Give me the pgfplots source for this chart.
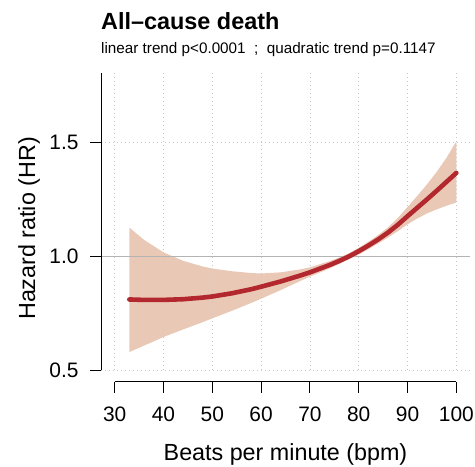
\documentclass[border=0pt]{standalone}
\usepackage{fontspec}
\setmainfont{Liberation Sans}
\usepackage{pgfplots}
\pgfplotsset{compat=1.18}
\usepgfplotslibrary{fillbetween}

\definecolor{bandcol}{HTML}{E2B69C}
\definecolor{fitcol}{HTML}{B3282E}
\definecolor{gridcol}{HTML}{C8C8C8}
\definecolor{refcol}{HTML}{B4B4B4}

% fitted hazard ratio with its confidence band
\pgfplotstableread{
bpm   hr     lo     hi
33    0.810  0.579  1.126
36    0.808  0.607  1.072
40    0.808  0.645  1.017
44    0.811  0.678  0.980
48    0.818  0.710  0.955
50    0.823  0.727  0.946
54    0.837  0.760  0.934
58    0.855  0.795  0.926
60    0.866  0.813  0.924
64    0.889  0.851  0.929
68    0.915  0.891  0.942
70    0.929  0.910  0.951
74    0.961  0.946  0.978
76    0.979  0.966  0.994
78    0.999  0.987  1.013
80    1.022  1.007  1.037
82    1.047  1.031  1.064
84    1.074  1.056  1.093
86    1.104  1.082  1.127
88    1.138  1.110  1.168
90    1.176  1.140  1.216
92    1.213  1.166  1.265
94    1.250  1.188  1.316
96    1.288  1.206  1.371
98    1.327  1.222  1.433
100   1.366  1.236  1.505
}\hrdata

\begin{document}
\begin{tikzpicture}
\begin{axis}[
  at={(101bp,-381.7bp)}, anchor=south west,
  scale only axis, width=369bp, height=308.7bp,
  xmin=27.2, xmax=102.8, ymin=0.4486, ymax=1.805,
  clip=false,
  axis line style={draw=none},
  xtick={30,40,...,100}, ytick={0.5,1.0,1.5},
  xtick pos=bottom, ytick pos=left,
  tick align=outside, major tick length=11bp,
  tick style={black, line width=1bp},
  tick label style={font=\fontsize{21}{25}\selectfont},
  xticklabel style={yshift=-11bp},
  yticklabel style={xshift=-8bp, /pgf/number format/.cd, fixed, fixed zerofill, precision=1},
  /pgf/number format/assume math mode=true,
]
  % dotted grid
  \pgfplotsinvokeforeach{30,40,...,100}{
    \draw[gridcol, line width=0.8bp, dash pattern=on 0.8bp off 3.2bp]
      (axis cs:#1,0.5) -- (axis cs:#1,1.805);
  }
  \pgfplotsinvokeforeach{0.5,1.5}{
    \draw[gridcol, line width=0.8bp, dash pattern=on 0.8bp off 3.2bp]
      (axis cs:27.2,#1) -- (axis cs:102.8,#1);
  }

  % confidence band
  \addplot[name path=upper, draw=none] table[x=bpm, y=hi] {\hrdata};
  \addplot[name path=lower, draw=none] table[x=bpm, y=lo] {\hrdata};
  \addplot[bandcol, fill opacity=0.75] fill between[of=upper and lower];

  % reference line HR = 1
  \draw[refcol, line width=1.2bp] (axis cs:27.2,1) -- (axis cs:102.8,1);

  % fitted curve
  \addplot[fitcol, line width=4.6bp, line cap=round] table[x=bpm, y=hr] {\hrdata};

  % axis lines
  \draw[black, line width=1bp] (axis cs:27.2,0.5) -- (axis cs:27.2,1.805);
  \draw[black, line width=1bp] (axis cs:30,0.4486) -- (axis cs:100,0.4486);
\end{axis}

\node[anchor=base west, font=\fontsize{23.5}{28}\selectfont\bfseries, inner sep=0pt]
  at (101bp,-29.3bp) {All–cause death};
\node[anchor=base west, font=\fontsize{15.3}{18}\selectfont, inner sep=0pt]
  at (101bp,-53.3bp) {linear trend p<0.0001~~;~~quadratic trend p=0.1147};
\node[anchor=base, font=\fontsize{23.4}{28}\selectfont, inner sep=0pt]
  at (285.5bp,-460bp) {Beats per minute (bpm)};
\node[anchor=base, rotate=90, font=\fontsize{23.4}{28}\selectfont, inner sep=0pt]
  at (35bp,-228.5bp) {Hazard ratio (HR)};

% page frame
\pgfresetboundingbox
\useasboundingbox (0,0) rectangle (475bp,-467bp);
\end{tikzpicture}
\end{document}
